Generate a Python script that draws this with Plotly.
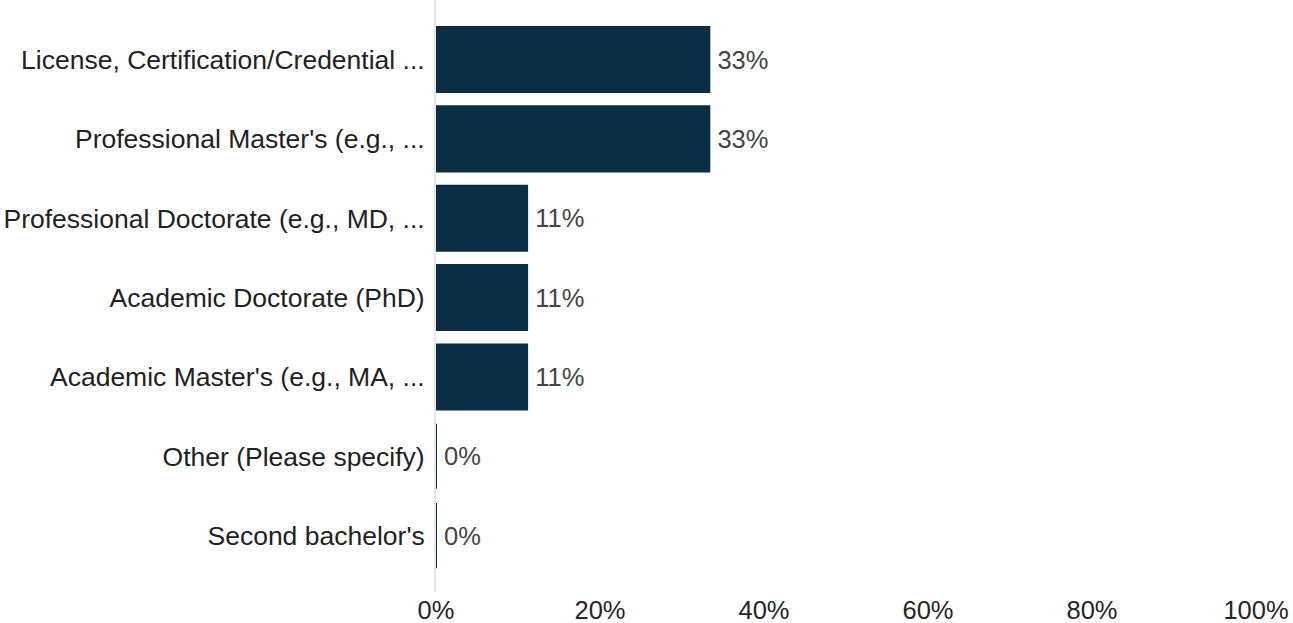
import plotly.graph_objects as go

categories = [
    "License, Certification/Credential ...",
    "Professional Master's (e.g., ...",
    "Professional Doctorate (e.g., MD, ...",
    "Academic Doctorate (PhD)",
    "Academic Master's (e.g., MA, ...",
    "Other (Please specify)",
    "Second bachelor's",
]
values = [33.33, 33.33, 11.11, 11.11, 11.11, 0, 0]
value_labels = ["33%", "33%", "11%", "11%", "11%", "0%", "0%"]
x_ticks = [0, 20, 40, 60, 80, 100]
x_tick_labels = ["0%", "20%", "40%", "60%", "80%", "100%"]

BAR = "#0c2e44"
FONT = "Liberation Sans, Arial, sans-serif"

fig = go.Figure(
    go.Bar(
        x=values,
        y=categories,
        orientation="h",
        marker=dict(color=BAR, line=dict(color=BAR, width=2)),
        text=["\u2009" + t for t in value_labels],
        textposition="outside",
        textfont=dict(family=FONT, size=25.5, color="#454545"),
        constraintext="none",
        cliponaxis=False,
        hoverinfo="skip",
    )
)

fig.update_layout(
    width=1293,
    height=623,
    margin=dict(l=436, r=37, t=0, b=31, autoexpand=False),
    plot_bgcolor="white",
    paper_bgcolor="white",
    bargap=0.18,
    showlegend=False,
    font=dict(family=FONT, color="#222222"),
)
fig.update_xaxes(
    range=[0, 100],
    tickvals=x_ticks,
    ticktext=x_tick_labels,
    showgrid=False,
    zeroline=False,
    showline=False,
    tickfont=dict(family=FONT, size=25.5, color="#262626"),
    automargin=False,
)
fig.update_yaxes(
    type="category",
    categoryorder="array",
    categoryarray=categories,
    range=[6.71, -0.75],
    showgrid=False,
    zeroline=False,
    showline=True,
    linecolor="#e6e6e6",
    linewidth=2,
    layer="below traces",
    ticks="outside",
    ticklen=4,
    tickcolor="rgba(0,0,0,0)",
    tickfont=dict(family=FONT, size=26.5, color="#222222"),
    automargin=False,
)

fig.write_html(
    "out.html",
    config={"displayModeBar": False},
    post_script="document.body.style.margin='0';document.body.style.overflow='hidden';",
)
